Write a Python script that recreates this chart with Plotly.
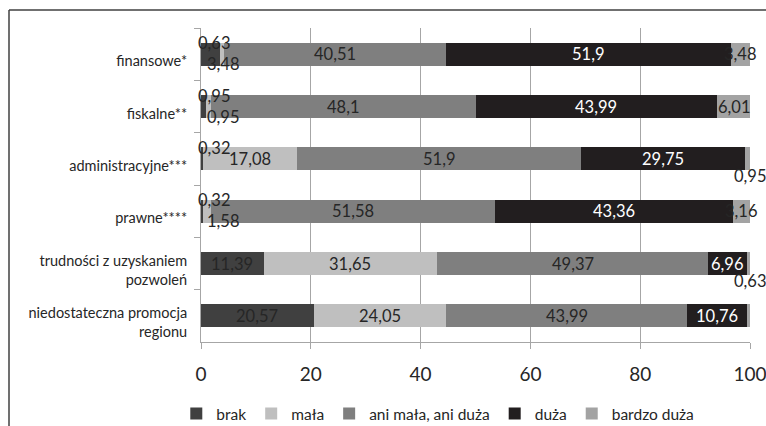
import plotly.graph_objects as go

categories = ["finansowe*", "fiskalne**", "administracyjne***", "prawne****",
              "trudności z uzyskaniem<br>pozwoleń", "niedostateczna promocja<br>regionu"]
series_names = ["brak", "mała", "ani mała, ani duża", "duża", "bardzo duża"]
brak = [3.48, 0.95, 0.32, 0.32, 11.39, 20.57]
mala = [0.63, 0.95, 17.08, 1.58, 31.65, 24.05]
ani = [40.51, 48.1, 51.9, 51.58, 49.37, 43.99]
duza = [51.9, 43.99, 29.75, 43.36, 6.96, 10.76]
bardzo_duza = [3.48, 6.01, 0.95, 3.16, 0.63, 0.63]
x_ticks = [0, 20, 40, 60, 80, 100]

series = [brak, mala, ani, duza, bardzo_duza]
colors = ["#404040", "#bfbfbf", "#7f7f7f", "#221e1f", "#a3a3a3"]
text_colors = ["#262626", "#262626", "#262626", "#ffffff", "#262626"]

W, H = 766, 426
L, R, T, B = 201, 16, 28, 84
FONT = "Lato"
LBL = 16.5

fig = go.Figure()
for name, vals, col in zip(series_names, series, colors):
    fig.add_trace(go.Bar(
        y=categories, x=vals, name=name, orientation="h",
        marker=dict(color=col, line=dict(width=0)),
        hoverinfo="x+name",
    ))

def fmt(v):
    return f"{v:g}".replace(".", ",")

annotations = []
START_SMALL = 5
END_SMALL = 2
for i, cat in enumerate(categories):
    s = 0.0
    start_small = [j for j in (0, 1) if series[j][i] < START_SMALL]
    order = sorted(start_small, key=lambda j: (series[j][i], j))
    pos = {}
    if order:
        pos[order[0]] = "above"
        if len(order) > 1:
            pos[order[1]] = "below"
    for j, vals in enumerate(series):
        v = vals[i]
        c = s + v / 2
        dark = dict(family=FONT, size=LBL, color="#262626")
        base = dict(y=cat, xref="x", yref="y", showarrow=False, text=fmt(v),
                    font=dict(family=FONT, size=LBL, color=text_colors[j]))
        if j in pos:
            if pos[j] == "above":
                annotations.append(dict(base, x=0, xanchor="left", xshift=-5, yshift=11, font=dark))
            else:
                annotations.append(dict(base, x=0, xanchor="left", xshift=4, yshift=-10, font=dark))
        elif j == 4 and v < END_SMALL:
            annotations.append(dict(base, x=s + v, xanchor="center", yshift=-17, font=dark))
        else:
            annotations.append(dict(base, x=c, xanchor="center"))
        s += v

pw = W - L - R
ph = H - T - B
def px_x(p):
    return (p - L) / pw
def px_y(p):
    return (H - B - p) / ph

shapes = [
    dict(type="line", xref="paper", yref="paper", x0=px_x(9), x1=px_x(780), y0=px_y(10), y1=px_y(10),
         line=dict(color="#404040", width=1.5)),
    dict(type="line", xref="paper", yref="paper", x0=px_x(9), x1=px_x(9), y0=px_y(10), y1=px_y(430),
         line=dict(color="#404040", width=1.5)),
]

fig.update_layout(
    width=W, height=H,
    margin=dict(l=L, r=R, t=T, b=B, pad=0, autoexpand=False),
    barmode="stack", bargap=0.56,
    plot_bgcolor="white", paper_bgcolor="white",
    font=dict(family=FONT, size=15, color="#262626"),
    xaxis=dict(range=[0, 100], tickvals=x_ticks, ticktext=[str(t) for t in x_ticks],
               showgrid=True, gridcolor="#a6a6a6", gridwidth=1,
               showline=True, linecolor="#a6a6a6", linewidth=1,
               ticks="outside", ticklen=6, tickcolor="#a6a6a6",
               tickfont=dict(family=FONT, size=19, color="#262626"),
               ticklabelstandoff=9, ticklabeloverflow="allow",
               zeroline=False, fixedrange=True),
    yaxis=dict(autorange="reversed", showline=True, linecolor="#a6a6a6", linewidth=1,
               ticks="outside", ticklen=6, tickcolor="#a6a6a6", tickson="boundaries",
               tickfont=dict(family=FONT, size=14.5, color="#262626"),
               ticklabelshift=-7, ticklabelstandoff=10, fixedrange=True),
    legend=dict(orientation="h", x=-0.045, xanchor="left", y=px_y(414), yanchor="middle",
                font=dict(family=FONT, size=15.5, color="#262626"),
                itemclick=False, itemdoubleclick=False, traceorder="normal",
                bgcolor="rgba(0,0,0,0)"),
    annotations=annotations,
    shapes=shapes,
    showlegend=True,
)

fig.write_html("out.html", config={"displayModeBar": False},
               post_script="document.body.style.margin='0';")
